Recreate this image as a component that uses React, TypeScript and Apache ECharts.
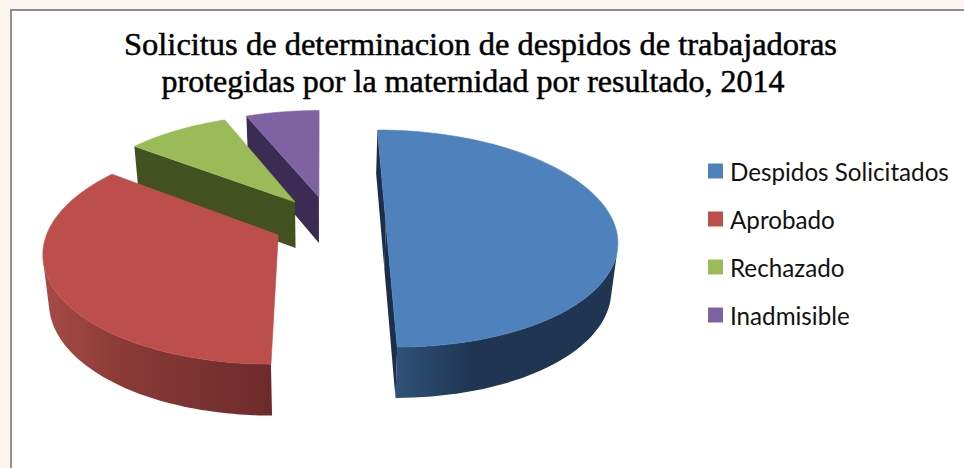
import React, { useEffect, useRef } from "react";
import * as echarts from "echarts";

const TITLE_LINES = [
  "Solicitus de determinacion de despidos de trabajadoras",
  "protegidas por la maternidad por resultado, 2014",
];
const CATEGORIES = ["Despidos Solicitados", "Aprobado", "Rechazado", "Inadmisible"];
const VALUES = [50.0, 35.3, 8.6, 6.1];

const TOP_COLORS = ["#4F81BD", "#BC4F4B", "#9BBB59", "#7F62A1"];
const WALL_LEFT = ["#2F5278", "#A84A46", "#43501F", "#3A2C52"];
const WALL_MID = ["#1F3552", "#8A3A37", "#43501F", "#3A2C52"];
const WALL_RIGHT = ["#1F3552", "#6C2B2A", "#43501F", "#3A2C52"];
const RADIAL = ["#1B2F4A", "", "#43501F", "#3A2C52"];
const EXPLODE: [number, number][] = [[0.289, 0.004], [-0.18, -0.111], [-0.113, 0.204], [-0.005, 0.253]];
const DRAW_ORDER = [3, 2, 1, 0];

const R = 228, VX = 320, HY = -500, D = 723, K = 0.147;

function top(X: number, Y: number): [number, number] {
  const w = 1 + K * Y;
  return [VX + (R * X) / w, HY + D / w];
}
function bottom(X: number, Y: number): [number, number] {
  const w = 1 + K * Y;
  const p = top(X, Y);
  return [VX + (p[0] - VX) * 0.978, p[1] + 23 + 23.8 / w];
}
function area(pts: number[][]) {
  let s = 0;
  for (let i = 0; i < pts.length; i++) {
    const a = pts[i], b = pts[(i + 1) % pts.length];
    s += a[0] * b[1] - b[0] * a[1];
  }
  return s;
}

function sliceShapes(i: number, value: number) {
  const total = VALUES.reduce((a, b) => a + b, 0);
  const before = VALUES.slice(0, i).reduce((a, b) => a + b, 0);
  const t0 = (before / total) * Math.PI * 2;
  const t1 = ((before + value) / total) * Math.PI * 2;
  const [ox, oy] = EXPLODE[i];
  const n = 90;
  const world: [number, number][] = [];
  for (let k = 0; k <= n; k++) {
    const t = t0 + ((t1 - t0) * k) / n;
    world.push([ox + Math.sin(t), oy + Math.cos(t)]);
  }
  const children: any[] = [];
  const radial = (a: [number, number], b: [number, number]) => {
    const q = [top(a[0], a[1]), top(b[0], b[1]), bottom(b[0], b[1]), bottom(a[0], a[1])];
    if (area(q) < 0 && RADIAL[i]) {
      children.push({ type: "polygon", shape: { points: q }, style: { fill: RADIAL[i] } });
    }
  };
  radial([ox, oy], world[0]);
  radial(world[n], [ox, oy]);
  const upper: number[][] = [];
  const lower: number[][] = [];
  for (let k = 0; k < n; k++) {
    const a = world[k], b = world[k + 1];
    const q = [top(a[0], a[1]), top(b[0], b[1]), bottom(b[0], b[1]), bottom(a[0], a[1])];
    if (area(q) < 0) {
      if (!upper.length) {
        upper.push(q[0]);
        lower.push(q[3]);
      }
      upper.push(q[1]);
      lower.push(q[2]);
    }
  }
  if (upper.length) {
    children.push({
      type: "polygon",
      shape: { points: upper.concat(lower.slice().reverse()) },
      style: {
        fill: {
          type: "linear", x: 0, y: 0, x2: 1, y2: 0, global: false,
          colorStops: [
            { offset: 0, color: WALL_LEFT[i] },
            { offset: 0.35, color: WALL_MID[i] },
            { offset: 1, color: WALL_RIGHT[i] },
          ],
        },
      },
    });
  }
  const face = [top(ox, oy), ...world.map((p) => top(p[0], p[1]))];
  children.push({
    type: "polygon",
    shape: { points: face },
    style: { fill: TOP_COLORS[i], stroke: TOP_COLORS[i], lineWidth: 0.6 },
  });
  return { type: "group", children };
}

export default function App() {
  const ref = useRef<HTMLDivElement>(null);
  useEffect(() => {
    document.body.style.margin = "0";
    const chart = echarts.init(ref.current!, undefined, { renderer: "svg" });
    const titleStyle = {
      fontFamily: "Liberation Serif",
      fontSize: 32.5,
      fontWeight: "normal" as const,
      color: "#000",
      textBorderColor: "#000",
      textBorderWidth: 0.5,
    };
    chart.setOption({
      animation: false,
      backgroundColor: "#FDF6F0",
      title: [
        { text: TITLE_LINES[0], left: 475.5, top: 22, textAlign: "center", textStyle: titleStyle },
        { text: TITLE_LINES[1], left: 468, top: 60, textAlign: "center", textStyle: { ...titleStyle, fontSize: 32 } },
      ],
      legend: {
        orient: "vertical",
        left: 703,
        top: 154,
        itemWidth: 15,
        itemHeight: 15,
        itemGap: 24,
        icon: "rect",
        selectedMode: false,
        textStyle: { fontFamily: "Lato", fontSize: 24.2, color: "#111", padding: [0, 0, 0, 2] },
        data: CATEGORIES.map((name, i) => ({ name, itemStyle: { color: TOP_COLORS[i] } })),
      },
      graphic: [
        { type: "rect", shape: { x: 10, y: 9, width: 954, height: 459 }, style: { fill: "#8F8F8F" } },
        { type: "rect", shape: { x: 12, y: 11, width: 952, height: 457 }, style: { fill: "#FFFFFF" } },
      ],
      series: DRAW_ORDER.map((i) => ({
        type: "custom",
        name: CATEGORIES[i],
        coordinateSystem: "none",
        silent: true,
        itemStyle: { color: TOP_COLORS[i] },
        data: [[VALUES[i]]],
        renderItem: (_p: any, api: any) => sliceShapes(i, api.value(0)),
      })),
    });
    return () => chart.dispose();
  }, []);
  return <div ref={ref} style={{ width: 964, height: 468, display: "block" }} />;
}
